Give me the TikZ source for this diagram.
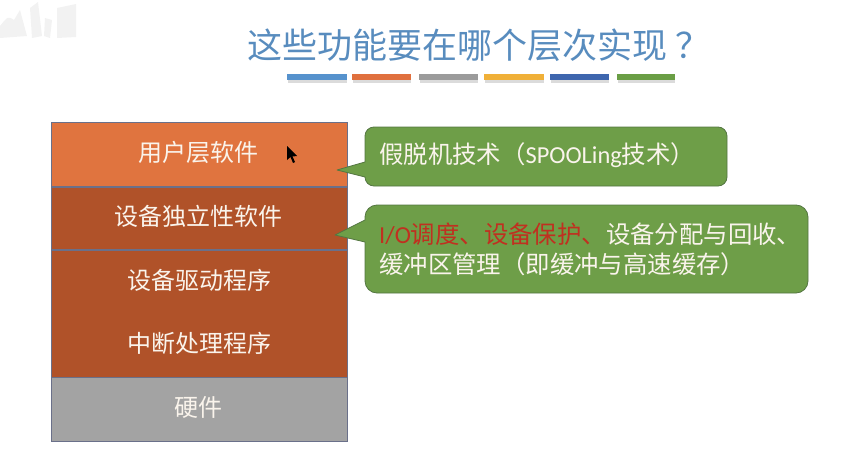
\documentclass[tikz,border=0pt]{standalone}
\usepackage{fontspec}
\setmainfont{Noto Sans CJK SC}
\newfontfamily\latinfont{Carlito}
\begin{document}
\begin{tikzpicture}[x=1pt,y=-1pt,line cap=rect,
	layerbox/.style={draw=custcol_border, line width=1pt, minimum width=296pt, anchor=north west, inner sep=0},
	layerline/.style={draw=custcol_border, line width=2pt, line cap=butt},
	layertext/.style={inner sep=0, text=custcol_text, font=\fontsize{24pt}{24pt}\selectfont},
	calloutbox/.style={draw=custcol_edge, line width=0.8pt, fill=custcol_green, line join=round},
	callouttext/.style={inner sep=0, anchor=west, align=left, text=custcol_text, font=\fontsize{24.4pt}{30pt}\selectfont},
	titlebar/.style={inner sep=0, minimum height=6pt, anchor=north west},
	barshadow/.style={fill=black!14}]
	\definecolor{custcol_border}{RGB}{106, 112, 138}
	\definecolor{custcol_edge}{RGB}{84, 118, 66}
	\definecolor{custcol_text}{RGB}{250, 244, 236}
	\definecolor{custcol_title}{RGB}{88, 140, 190}
	\definecolor{custcol_top}{RGB}{224, 116, 63}
	\definecolor{custcol_mid}{RGB}{176, 82, 41}
	\definecolor{custcol_grey}{RGB}{163, 163, 163}
	\definecolor{custcol_green}{RGB}{110, 158, 72}
	\definecolor{custcol_red}{RGB}{192, 48, 32}
	\definecolor{custcol_bar_a}{RGB}{86, 146, 205}
	\definecolor{custcol_bar_b}{RGB}{224, 112, 62}
	\definecolor{custcol_bar_c}{RGB}{155, 155, 155}
	\definecolor{custcol_bar_d}{RGB}{240, 176, 56}
	\definecolor{custcol_bar_e}{RGB}{62, 102, 174}
	\definecolor{custcol_bar_f}{RGB}{106, 158, 69}
	\definecolor{custcol_mark}{RGB}{242, 242, 242}
	\useasboundingbox (0,0) rectangle (855,458);
	% faint logo, top left
	\fill [custcol_mark] (0,26) .. controls (8,16) .. (14,20) -- (20,10) -- (27,36) -- (0,38) -- cycle;
	\fill [custcol_mark] (30,8) -- (38,2) -- (42,36) -- (32,38) -- cycle;
	\fill [custcol_mark] (45,18) -- (52,20) -- (50,38) -- (44,36) -- cycle;
	\fill [custcol_mark] (57,8) -- (76,4) -- (76,37) -- (57,38) -- cycle;
	% title
	\node [inner sep=0, anchor=west, text=custcol_title, font=\fontsize{35pt}{35pt}\selectfont] (title) at (247,45) {这些功能要在哪个层次实现\kern8pt？};
	\fill [barshadow] (288,79) rectangle (347,83);
	\fill [barshadow] (353,79) rectangle (411,83);
	\fill [barshadow] (420,79) rectangle (478,83);
	\fill [barshadow] (485,79) rectangle (544,83);
	\fill [barshadow] (551,79) rectangle (609,83);
	\fill [barshadow] (618,79) rectangle (675,83);
	\node [titlebar, fill=custcol_bar_a, minimum width=60pt] (bar_a) at (287,74) {};
	\node [titlebar, fill=custcol_bar_b, minimum width=59pt] (bar_b) at (352,74) {};
	\node [titlebar, fill=custcol_bar_c, minimum width=59pt] (bar_c) at (419,74) {};
	\node [titlebar, fill=custcol_bar_d, minimum width=60pt] (bar_d) at (484,74) {};
	\node [titlebar, fill=custcol_bar_e, minimum width=59pt] (bar_e) at (550,74) {};
	\node [titlebar, fill=custcol_bar_f, minimum width=58pt] (bar_f) at (617,74) {};
	% layer stack
	\node [layerbox, fill=custcol_top, minimum height=64pt] (user) at (51,122) {};
	\node [layerbox, fill=custcol_mid, minimum height=63pt] (indep) at (51,186) {};
	\node [layerbox, fill=custcol_mid, minimum height=128pt] (driver) at (51,249) {};
	\node [layerbox, fill=custcol_grey, minimum height=64pt] (hard) at (51,377) {};
	\draw [layerline] (user.south west) -- (user.south east);
	\draw [layerline] (indep.south west) -- (indep.south east);
	\node [layertext] (user_t) at (198,152) {用户层软件};
	\node [layertext] (indep_t) at (198,216) {设备独立性软件};
	\node [layertext] (driver_t) at (199,280) {设备驱动程序};
	\node [layertext] (irq_t) at (199,343) {中断处理程序};
	\node [layertext] (hard_t) at (198,407) {硬件};
	% mouse pointer
	\fill [black, line cap=butt] (287,146) -- (287,160) -- (290.5,157) -- (293,163) -- (295,162) -- (292.5,156.5) -- (297,156) -- cycle;
	% callouts
	\draw [calloutbox] (337,170) -- (365,162) -- (365,136) arc (180:270:9) -- (718,127) arc (270:360:9) -- (727,177) arc (0:90:9) -- (374,186) arc (90:180:9) -- (365,177) -- cycle;
	\draw [calloutbox] (335,235) -- (365,220) -- (365,217) arc (180:270:12) -- (796,205) arc (270:360:12) -- (808,281) arc (0:90:12) -- (377,293) arc (90:180:12) -- (365,242) -- cycle;
	\node [callouttext] (spool_t) at (379,155) {假脱机技术（{\latinfont SPOOLing}技术）};
	\node [callouttext] (sched_t) at (379,249) {{\color{custcol_red}{\latinfont I/O}调度、设备保护、}设备分配与回收、\\缓冲区管理（即缓冲与高速缓存）};
\end{tikzpicture}
\end{document}
